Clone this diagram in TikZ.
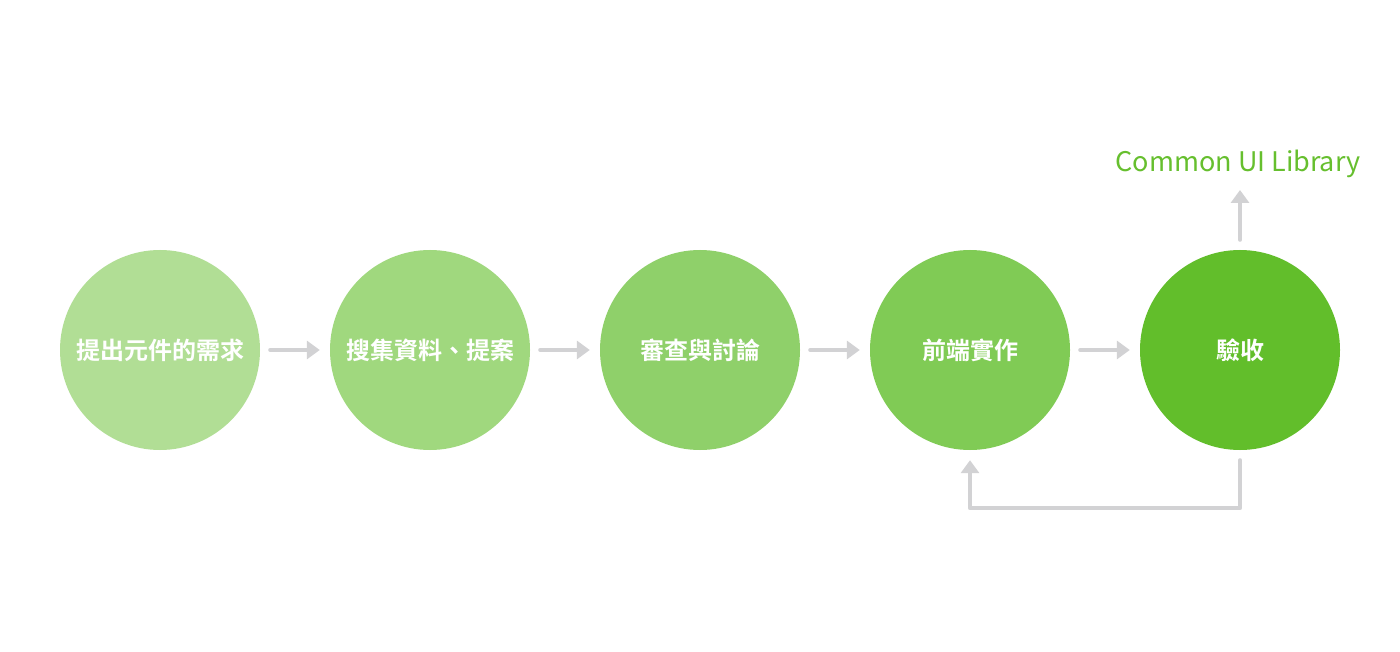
\documentclass[tikz,border=0pt]{standalone}
\usepackage{fontspec}
\setmainfont{Noto Sans CJK TC}
\newfontfamily\cjkbold{Noto Sans CJK TC Bold}
\usetikzlibrary{arrows.meta}
\definecolor{stepA}{HTML}{B1DE95}
\definecolor{stepB}{HTML}{A0D87E}
\definecolor{stepC}{HTML}{8FD06A}
\definecolor{stepD}{HTML}{80CB55}
\definecolor{stepE}{HTML}{62BE2B}
\definecolor{arrowgray}{HTML}{D2D2D4}
\definecolor{libgreen}{HTML}{66BF2E}
\tikzset{
  stepnode/.style={circle, minimum size=200pt, inner sep=0pt, text=white, font=\cjkbold\fontsize{24pt}{28pt}\selectfont},
  flow/.style={arrowgray, line width=4pt, line cap=round, line join=round, -{Triangle[length=13pt,width=18pt]}}
}
\begin{document}
\begin{tikzpicture}[x=1pt,y=-1pt]
\useasboundingbox[fill=white] (0,0) rectangle (1400,652);
\node[stepnode, fill=stepA] (s1) at (160,350) {提出元件的需求};
\node[stepnode, fill=stepB] (s2) at (430,350) {搜集資料、提案};
\node[stepnode, fill=stepC] (s3) at (700,350) {審查與討論};
\node[stepnode, fill=stepD] (s4) at (970,350) {前端實作};
\node[stepnode, fill=stepE] (s5) at (1240,350) {驗收};
\node[text=libgreen, font=\fontsize{27pt}{31pt}\selectfont] (lib) at (1238,164) {Common UI Library};
\coordinate (libtip) at (1240,190);

\draw[flow, shorten <=10pt, shorten >=10pt] (s1.east) -- (s2.west);
\draw[flow, shorten <=10pt, shorten >=10pt] (s2.east) -- (s3.west);
\draw[flow, shorten <=10pt, shorten >=10pt] (s3.east) -- (s4.west);
\draw[flow, shorten <=10pt, shorten >=10pt] (s4.east) -- (s5.west);
\draw[flow, shorten <=10pt] (s5.north) -- (libtip);
\draw[flow] ([yshift=-10pt]s5.south) -- ++(0,48) -| ([yshift=-10pt]s4.south);
\end{tikzpicture}
\end{document}
